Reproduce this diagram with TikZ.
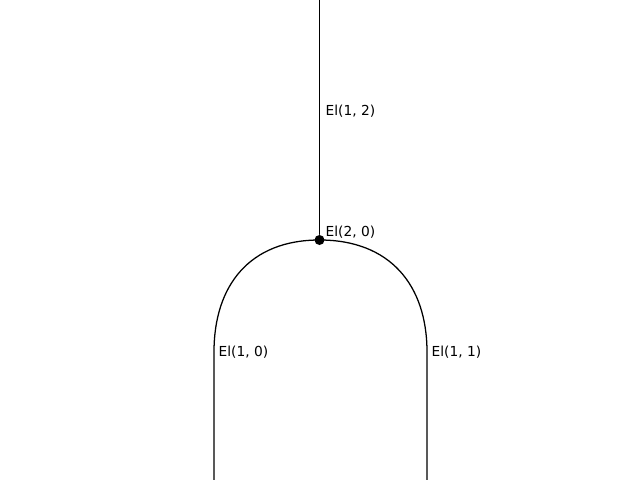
\documentclass[tikz,border=0pt]{standalone}
\usepackage{fontspec}
\setmainfont{DejaVu Sans}
\usepackage{tikz}

\begin{document}
\begin{tikzpicture}[x=0.025cm,y=-0.025cm,line width=0.9pt,line cap=round,
  lbl/.style={anchor=west,inner sep=0pt,font=\fontsize{9.8}{12}\selectfont},
  vdot/.style={circle,fill=black,inner sep=0pt,minimum size=0.25cm}]
\useasboundingbox (0,0) rectangle (640,480);
\coordinate (t12) at (319.5,0);
\coordinate (b10) at (214,480);
\coordinate (b11) at (427,480);
\node[vdot] (v20) at (319.5,240) {};
\draw (t12) -- (v20);
\draw (v20.center) .. controls (250,240) and (214,285) .. (214,352) -- (b10);
\draw (v20.center) .. controls (390,240) and (427,285) .. (427,352) -- (b11);
\node[lbl] (l12) at (325,111) {El(1, 2)};
\node[lbl] (l20) at (325,232) {El(2, 0)};
\node[lbl] (l10) at (218,352) {El(1, 0)};
\node[lbl] (l11) at (431,352) {El(1, 1)};
\end{tikzpicture}
\end{document}
